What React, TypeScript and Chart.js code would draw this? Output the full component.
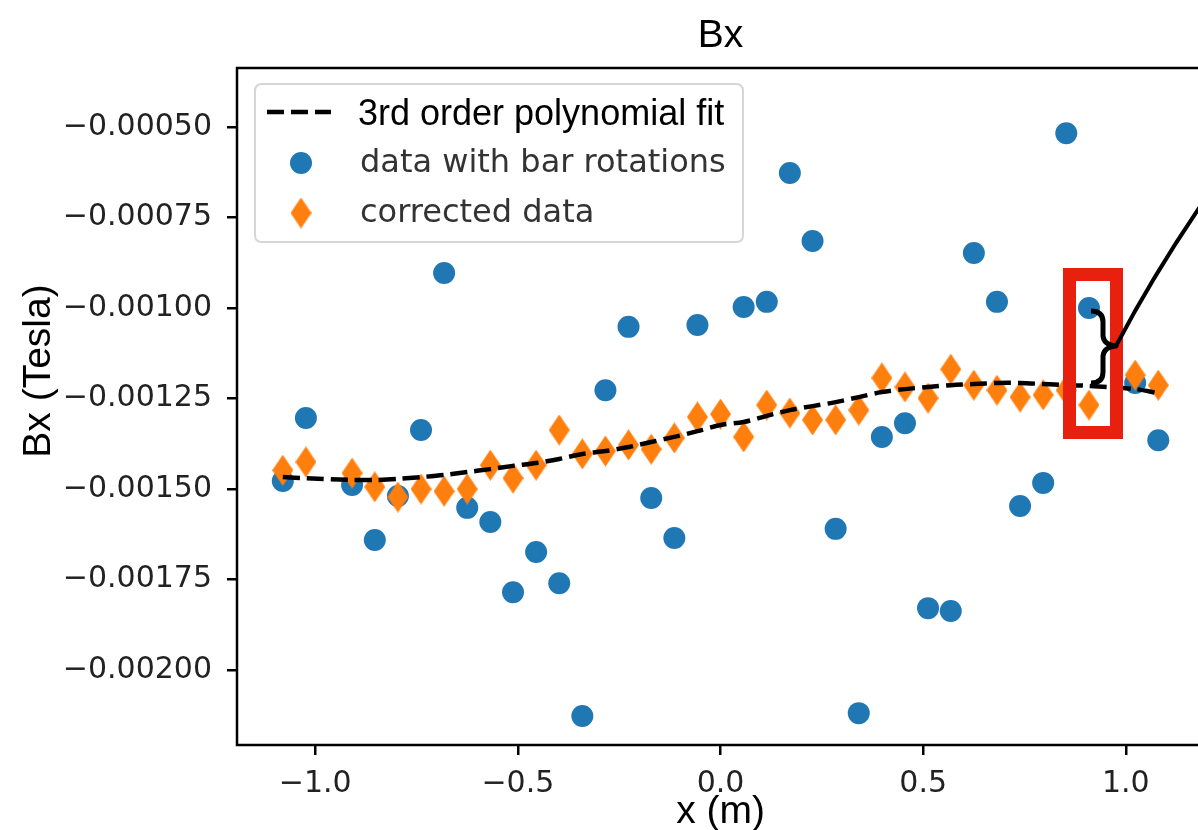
import React, { useEffect, useRef } from 'react';
import { Chart, registerables } from 'chart.js';

Chart.register(...registerables);

// x positions of the measurement points (m)
const xPositions = [
  -1.08, -1.023, -0.909, -0.853, -0.796, -0.739, -0.682, -0.625, -0.568, -0.512,
  -0.455, -0.398, -0.341, -0.284, -0.227, -0.171, -0.114, -0.057, 0.0, 0.057,
  0.114, 0.171, 0.227, 0.284, 0.341, 0.398, 0.455, 0.512, 0.568, 0.625,
  0.682, 0.739, 0.796, 0.853, 0.909, 1.023, 1.08,
];

// Bx measured with bar rotations (Tesla)
const rawBx = [
  -0.001478, -0.001304, -0.001489, -0.001641, -0.001519, -0.001337, -0.000903, -0.001552, -0.001591, -0.001785,
  -0.001674, -0.00176, -0.002127, -0.001227, -0.001052, -0.001525, -0.001635, -0.001047, null, -0.000997,
  -0.000983, -0.000627, -0.000815, -0.00161, -0.002119, -0.001356, -0.001318, -0.001829, -0.001837, -0.000848,
  -0.000983, -0.001547, -0.001483, -0.000517, -0.001, -0.001207, -0.001365,
];

// corrected Bx (Tesla)
const correctedBx = [
  -0.001448, -0.001425, -0.001456, -0.001494, -0.001522, -0.0015, -0.001506, -0.0015, -0.001434, -0.00147,
  -0.001434, -0.001337, -0.001403, -0.001395, -0.001378, -0.00139, -0.001359, -0.001301, -0.001293, -0.001356,
  -0.001268, -0.00129, -0.001309, -0.001309, -0.001282, -0.001193, -0.001218, -0.001249, -0.001169, -0.001213,
  -0.001227, -0.001246, -0.00124, -0.001227, -0.001268, -0.001185, -0.001213,
];

// 3rd order polynomial fit (Tesla)
const fitBx = [
  -0.001467, -0.00147, -0.001475, -0.001475, -0.001472, -0.001467, -0.001461, -0.001453, -0.001445, -0.001436,
  -0.001428, -0.001417, -0.001403, -0.001395, -0.001384, -0.00137, -0.001356, -0.00134, -0.001323, -0.001315,
  -0.001298, -0.001282, -0.001271, -0.00126, -0.001246, -0.001232, -0.001224, -0.001218, -0.001213, -0.00121,
  -0.001207, -0.001207, -0.00121, -0.001213, -0.001215, -0.001224, -0.001235,
];

const xTickValues = [-1.0, -0.5, 0.0, 0.5, 1.0];
const yTickValues = [-0.002, -0.00175, -0.0015, -0.00125, -0.001, -0.00075, -0.0005];

const titleText = 'Bx';
const xLabel = 'x (m)';
const yLabel = 'Bx (Tesla)';
const legendLabels = ['3rd order polynomial fit', 'data with bar rotations', 'corrected data'];

const BLUE = '#1f77b4';
const ORANGE = '#ff7f0e';

function toPoints(values: (number | null)[]) {
  const pts: { x: number; y: number }[] = [];
  values.forEach((v, i) => {
    if (v !== null) pts.push({ x: xPositions[i], y: v });
  });
  return pts;
}

function makeDiamond(w: number, h: number, color: string) {
  const c = document.createElement('canvas');
  c.width = w;
  c.height = h;
  const g = c.getContext('2d')!;
  g.fillStyle = color;
  g.beginPath();
  g.moveTo(w / 2, 0);
  g.lineTo(w, h / 2);
  g.lineTo(w / 2, h);
  g.lineTo(0, h / 2);
  g.closePath();
  g.fill();
  return c;
}

const minus = (s: string) => s.replace('-', '\u2212');

export default function App() {
  const ref = useRef<HTMLCanvasElement | null>(null);

  useEffect(() => {
    const canvas = ref.current;
    if (!canvas) return;
    const diamond = makeDiamond(21, 31, ORANGE);

    const overlay = {
      id: 'overlay',
      afterDraw(chart: any) {
        const ctx: CanvasRenderingContext2D = chart.ctx;
        const a = chart.chartArea;
        const x0 = chart.scales.x.getPixelForValue(0);
        ctx.save();

        // spines (the right one lies outside the picture)
        ctx.strokeStyle = '#000';
        ctx.lineWidth = 2.5;
        ctx.setLineDash([]);
        ctx.beginPath();
        ctx.moveTo(a.right + 5, a.top);
        ctx.lineTo(a.left, a.top);
        ctx.lineTo(a.left, a.bottom);
        ctx.lineTo(a.right + 5, a.bottom);
        ctx.stroke();

        // title & axis labels
        ctx.fillStyle = '#000';
        ctx.textAlign = 'center';
        ctx.textBaseline = 'alphabetic';
        ctx.font = '39px "Liberation Sans", Arial, sans-serif';
        ctx.fillText(titleText, x0, a.top - 21);
        ctx.fillText(xLabel, x0, a.bottom + 78);
        ctx.save();
        ctx.translate(a.left - 187, 371);
        ctx.rotate(-Math.PI / 2);
        ctx.fillText(yLabel, 0, 0);
        ctx.restore();

        // legend
        const lx = a.left + 18;
        const ly = a.top + 16;
        const lw = 488;
        const lh = 158;
        const r = 7;
        ctx.beginPath();
        ctx.moveTo(lx + r, ly);
        ctx.lineTo(lx + lw - r, ly);
        ctx.quadraticCurveTo(lx + lw, ly, lx + lw, ly + r);
        ctx.lineTo(lx + lw, ly + lh - r);
        ctx.quadraticCurveTo(lx + lw, ly + lh, lx + lw - r, ly + lh);
        ctx.lineTo(lx + r, ly + lh);
        ctx.quadraticCurveTo(lx, ly + lh, lx, ly + lh - r);
        ctx.lineTo(lx, ly + r);
        ctx.quadraticCurveTo(lx, ly, lx + r, ly);
        ctx.closePath();
        ctx.fillStyle = 'rgba(255,255,255,0.85)';
        ctx.fill();
        ctx.strokeStyle = '#d6d6d6';
        ctx.lineWidth = 2;
        ctx.stroke();

        // legend: dashed line sample
        ctx.strokeStyle = '#000';
        ctx.lineWidth = 4.5;
        ctx.setLineDash([17, 7]);
        ctx.beginPath();
        ctx.moveTo(lx + 12, ly + 28);
        ctx.lineTo(lx + 76, ly + 28);
        ctx.stroke();
        ctx.setLineDash([]);

        // legend: circle
        ctx.fillStyle = BLUE;
        ctx.beginPath();
        ctx.arc(lx + 46, ly + 79, 11, 0, Math.PI * 2);
        ctx.fill();

        // legend: diamond
        ctx.drawImage(diamond, lx + 46 - 10.5, ly + 129 - 15.5);

        ctx.textAlign = 'left';
        ctx.fillStyle = '#000';
        ctx.font = '36px "Liberation Sans", Arial, sans-serif';
        ctx.fillText(legendLabels[0], lx + 103, ly + 41);
        ctx.fillStyle = '#333';
        ctx.font = '32px "DejaVu Sans", sans-serif';
        ctx.fillText(legendLabels[1], lx + 105, ly + 88);
        ctx.fillText(legendLabels[2], lx + 105, ly + 138);

        // red highlight box
        ctx.strokeStyle = '#e8210f';
        ctx.lineWidth = 13;
        ctx.strokeRect(1069.5, 274.5, 47, 158);

        // curly brace
        ctx.strokeStyle = '#000';
        ctx.lineWidth = 5;
        ctx.lineJoin = 'round';
        ctx.beginPath();
        ctx.moveTo(1091, 311);
        ctx.quadraticCurveTo(1103, 311, 1103, 322);
        ctx.lineTo(1103, 336);
        ctx.quadraticCurveTo(1104, 345, 1116, 346);
        ctx.quadraticCurveTo(1104, 347, 1103, 356);
        ctx.lineTo(1103, 372);
        ctx.quadraticCurveTo(1103, 383, 1091, 383);
        ctx.stroke();

        // pointer line
        ctx.lineWidth = 4;
        ctx.beginPath();
        ctx.moveTo(1116, 346);
        ctx.quadraticCurveTo(1158, 266, 1215, 185);
        ctx.stroke();

        ctx.restore();
      },
    };

    const tickFont = { family: '"DejaVu Sans", sans-serif', size: 30 };

    const chart = new Chart(canvas, {
      type: 'scatter',
      data: {
        datasets: [
          {
            label: legendLabels[0],
            data: toPoints(fitBx),
            showLine: true,
            borderColor: '#000',
            borderWidth: 4.5,
            borderDash: [17, 7],
            pointRadius: 0,
            tension: 0.3,
            order: 0,
          },
          {
            label: legendLabels[1],
            data: toPoints(rawBx),
            backgroundColor: BLUE,
            borderWidth: 0,
            pointRadius: 11,
            pointStyle: 'circle',
            order: 2,
          },
          {
            label: legendLabels[2],
            data: toPoints(correctedBx),
            backgroundColor: ORANGE,
            borderWidth: 0,
            pointStyle: diamond as any,
            pointRadius: 15,
            order: 1,
          },
        ],
      },
      options: {
        responsive: false,
        animation: false,
        events: [],
        layout: { autoPadding: false, padding: { top: 68, right: 0, bottom: 0, left: 0 } },
        plugins: {
          legend: { display: false },
          tooltip: { enabled: false },
          title: { display: false },
        },
        scales: {
          x: {
            type: 'linear',
            min: -1.193,
            max: 1.178,
            afterBuildTicks: (s: any) => {
              s.ticks = xTickValues.map((v) => ({ value: v }));
            },
            afterFit: (s: any) => {
              s.height = 85;
            },
            grid: {
              display: true,
              drawOnChartArea: false,
              drawTicks: true,
              tickLength: 10,
              color: '#000',
              lineWidth: 2.5,
            },
            border: { display: false },
            ticks: {
              font: tickFont,
              color: '#222',
              padding: 11,
              maxRotation: 0,
              autoSkip: false,
              callback: (v: any) => minus(Number(v).toFixed(1)),
            },
          },
          y: {
            type: 'linear',
            min: -0.002207,
            max: -0.000337,
            afterBuildTicks: (s: any) => {
              s.ticks = yTickValues.map((v) => ({ value: v }));
            },
            afterFit: (s: any) => {
              s.width = 237;
            },
            grid: {
              display: true,
              drawOnChartArea: false,
              drawTicks: true,
              tickLength: 10,
              color: '#000',
              lineWidth: 2.5,
            },
            border: { display: false },
            ticks: {
              font: tickFont,
              color: '#222',
              padding: 15,
              autoSkip: false,
              callback: (v: any) => minus(Number(v).toFixed(5)),
            },
          },
        },
      },
      plugins: [overlay],
    } as any);

    return () => chart.destroy();
  }, []);

  return (
    <div
      style={{
        position: 'fixed',
        left: 0,
        top: 0,
        width: 1198,
        height: 830,
        overflow: 'hidden',
        background: '#fff',
      }}
    >
      <canvas ref={ref} width={1198} height={830} style={{ display: 'block' }} />
    </div>
  );
}
